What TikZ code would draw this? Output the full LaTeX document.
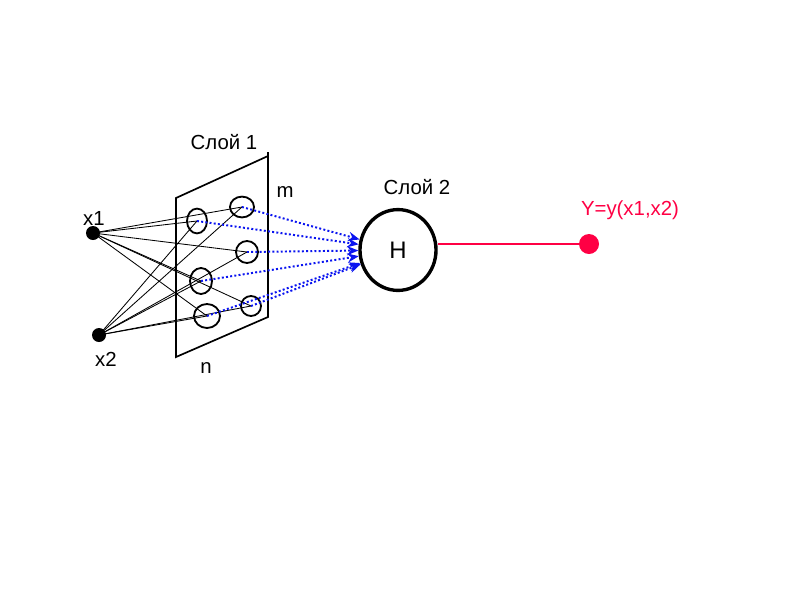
\documentclass[tikz,border=0pt]{standalone}
\usepackage{fontspec}
\setmainfont{Liberation Sans}
\usepackage{xcolor}
\usetikzlibrary{positioning, arrows.meta, shapes.geometric}
\definecolor{net-blue}{HTML}{0A14F0}
\definecolor{net-red}{HTML}{FF0044}

\begin{document}
\begin{tikzpicture}[x=0.025cm, y=-0.025cm,
    neuron/.style={draw, ellipse, line width=1.3pt, inner sep=0pt},
    inp/.style={circle, fill=black, minimum size=0.35cm, inner sep=0pt},
    wire/.style={line width=0.6pt},
    flow/.style={net-blue, line width=1.4pt, dash pattern=on 1.4pt off 1.6pt,
                 -{Stealth[length=8pt, width=6.5pt]}},
    lbl/.style={font=\fontsize{14.5}{17}\selectfont},
]
    \useasboundingbox (0,0) rectangle (800,600);

    \draw[line width=1.2pt] (176,198) -- (268,156) -- (268,317) -- (176,357) -- cycle;
    \draw[line width=1.2pt] (268,156) -- (268,152);

    \node[neuron, minimum width=0.5cm, minimum height=0.62cm] (c1) at (197,221) {};
    \node[neuron, minimum width=0.6cm, minimum height=0.52cm] (c2) at (242,207) {};
    \node[neuron, minimum width=0.55cm, minimum height=0.55cm] (c3) at (247,252) {};
    \node[neuron, minimum width=0.55cm, minimum height=0.65cm] (c4) at (201,281) {};
    \node[neuron, minimum width=0.65cm, minimum height=0.6cm] (c5) at (207,316) {};
    \node[neuron, minimum width=0.5cm, minimum height=0.5cm] (c6) at (251,306) {};

    \node[inp] (x1) at (93,233) {};
    \node[inp] (x2) at (99,335) {};

    \foreach \c in {c1,c2,c3,c4,c5,c6} {
        \draw[wire] (x1.center) -- (\c.center);
        \draw[wire] (x2.center) -- (\c.center);
    }

    \node[draw, ellipse, line width=2.4pt, minimum width=1.9cm, minimum height=2.02cm,
          font=\fontsize{17}{20}\selectfont] (H) at (398,250) {H};

    \foreach \c in {c1,c2,c3,c4,c5,c6}
        \draw[flow] (\c.center) -- (H);

    \node[circle, fill=net-red, minimum size=0.5cm, inner sep=0pt] (y) at (589,244) {};
    \draw[net-red, line width=1pt] (H.east |- y) -- (y);

    \node[lbl] (lx1) at (94,218) {x1};
    \node[lbl] (lx2) at (106,359) {x2};
    \node[lbl] (ln) at (206,368) {n};
    \node[lbl] (lm) at (285,192) {m};
    \node[lbl] (l1) at (224,142) {Слой 1};
    \node[lbl] (l2) at (417,187) {Слой 2};
    \node[lbl, text=net-red] (ly) at (630,210) {Y=y(x1,x2)};
\end{tikzpicture}
\end{document}
